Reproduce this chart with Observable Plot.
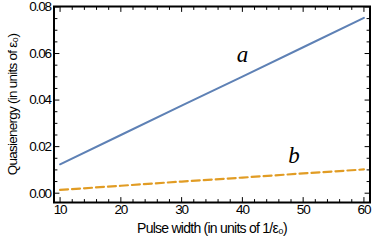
<!DOCTYPE html>
<html><head><meta charset="utf-8">
<script src="https://cdn.jsdelivr.net/npm/d3@7"></script>
<script src="https://cdn.jsdelivr.net/npm/@observablehq/plot@0.6"></script>
<style>
body{margin:0;background:#fff}
svg{display:block}
.lbl text{letter-spacing:-1.1px}
.ttl text{letter-spacing:-0.75px}
.ann text{font-family:"Liberation Serif",serif;font-style:italic}
</style>
</head><body><div id="chart"></div>
<script>
const pulseWidth = [10, 20, 30, 40, 50, 60];
const seriesA = [0.0124, 0.0250, 0.0376, 0.0501, 0.0627, 0.0753];
const seriesB = [0.0014, 0.0032, 0.0050, 0.0067, 0.0085, 0.0102];
const xMajorTicks = [10, 20, 30, 40, 50, 60];
const xMinorTicks = [12, 14, 16, 18, 22, 24, 26, 28, 32, 34, 36, 38, 42, 44, 46, 48, 52, 54, 56, 58];
const yMajorTicks = [0, 0.02, 0.04, 0.06, 0.08];
const yMinorTicks = [0.005, 0.01, 0.015, 0.025, 0.03, 0.035, 0.045, 0.05, 0.055, 0.065, 0.07, 0.075];
const annLabels = ["a", "b"];
const annX = [40, 48.5];
const annY = [0.0594, 0.0163];
const xTitle = "Pulse width (in units of 1/ε₀)";
const yTitle = "Quasienergy (in units of ε₀)";

const dataA = pulseWidth.map((x, i) => ({x, y: seriesA[i]}));
const dataB = pulseWidth.map((x, i) => ({x, y: seriesB[i]}));
const anns = annLabels.map((t, i) => ({t, x: annX[i], y: annY[i]}));

const tickShape = {draw(ctx, l) { ctx.moveTo(0, 0); ctx.lineTo(0, -l); }};
function ticks(data, channel, anchor, rotate, len) {
  const o = {frameAnchor: anchor, rotate, length: len, anchor: "start", shape: tickShape, strokeWidth: 1, stroke: "black"};
  o[channel] = d => d;
  return Plot.vector(data, o);
}

const chart = Plot.plot({
  width: 375, height: 245,
  marginLeft: 53.5, marginRight: 5.5, marginTop: 6, marginBottom: 43,
  x: {domain: [9, 61]},
  y: {domain: [-0.004, 0.0802]},
  style: {fontFamily: "Liberation Sans", fontSize: "13px", color: "black", background: "white"},
  marks: [
    ticks(xMajorTicks, "x", "bottom", 0, 5),
    ticks(xMinorTicks, "x", "bottom", 0, 3),
    ticks(xMajorTicks, "x", "top", 180, 5),
    ticks(xMinorTicks, "x", "top", 180, 3),
    ticks(yMajorTicks, "y", "left", 90, 5),
    ticks(yMinorTicks, "y", "left", 90, 3),
    ticks(yMajorTicks, "y", "right", -90, 5),
    ticks(yMinorTicks, "y", "right", -90, 3),
    Plot.axisX(xMajorTicks, {anchor: "bottom", tickSize: 0, tickPadding: 2, label: null, className: "lbl", fontSize: 13.5}),
    Plot.axisY(yMajorTicks, {anchor: "left", tickSize: 0, tickPadding: 3, label: null, tickFormat: d3.format(".2f"), className: "lbl", fontSize: 13.5}),
    Plot.text([xTitle], {frameAnchor: "bottom", dy: 30, text: d => d, textAnchor: "middle", fontSize: 14, className: "ttl"}),
    Plot.text([yTitle], {frameAnchor: "left", dx: -41.5, rotate: -90, text: d => d, textAnchor: "middle", fontSize: 13.5, className: "ttl"}),
    Plot.line(dataB, {x: "x", y: "y", stroke: "#E19C24", strokeWidth: 2.2, strokeDasharray: "8,4"}),
    Plot.line(dataA, {x: "x", y: "y", stroke: "#5E81B5", strokeWidth: 2}),
    Plot.text(anns, {x: "x", y: "y", text: "t", fontSize: 23, className: "ann"}),
    Plot.frame({stroke: "black", strokeWidth: 2})
  ]
});
document.getElementById("chart").append(chart);
</script>
</body></html>
